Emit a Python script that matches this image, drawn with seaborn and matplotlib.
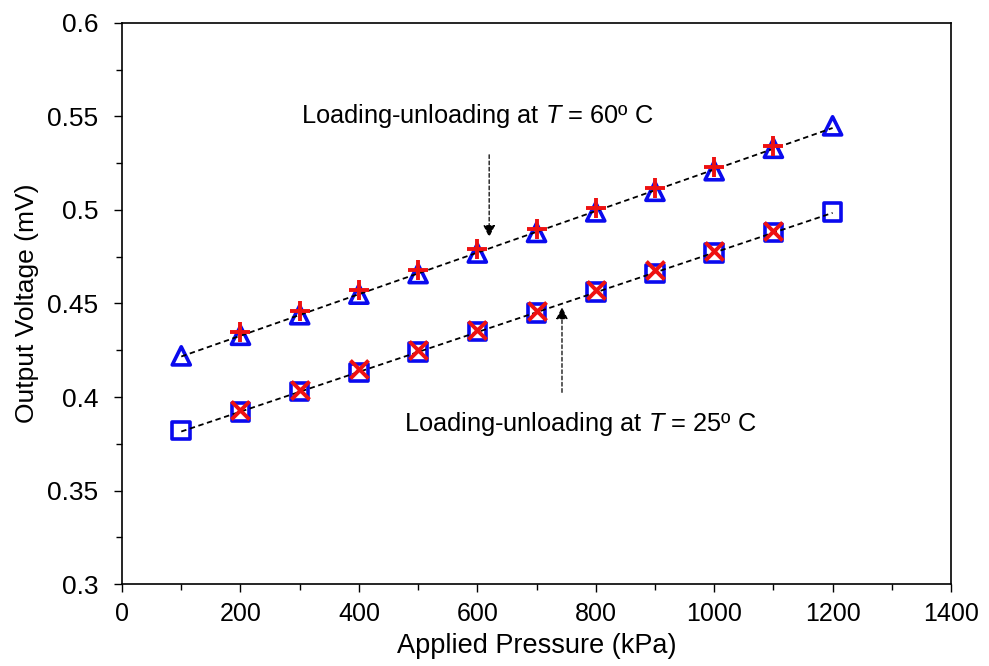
import matplotlib
matplotlib.use("Agg")
import matplotlib.pyplot as plt
from matplotlib.ticker import MultipleLocator
import seaborn as sns
import pandas as pd

# Applied pressure (kPa) and output voltage (mV)
pressure_full = [100, 200, 300, 400, 500, 600, 700, 800, 900, 1000, 1100, 1200]
pressure_inner = [200, 300, 400, 500, 600, 700, 800, 900, 1000, 1100]

v60_loading = [0.422, 0.433, 0.444, 0.455, 0.466, 0.477, 0.488, 0.499, 0.510, 0.521, 0.533, 0.545]
v60_unloading = [0.435, 0.446, 0.457, 0.468, 0.479, 0.490, 0.501, 0.512, 0.523, 0.534]
v25_loading = [0.382, 0.392, 0.403, 0.413, 0.424, 0.435, 0.445, 0.456, 0.466, 0.477, 0.488, 0.499]
v25_unloading = [0.393, 0.404, 0.415, 0.425, 0.436, 0.446, 0.457, 0.468, 0.478, 0.489]

x_ticks = [0, 200, 400, 600, 800, 1000, 1200, 1400]
y_ticks = [0.3, 0.35, 0.4, 0.45, 0.5, 0.55, 0.6]
y_tick_labels = ["0.3", "0.35", "0.4", "0.45", "0.5", "0.55", "0.6"]

sns.set_style("ticks")
plt.rcParams["font.family"] = ["Liberation Sans", "DejaVu Sans"]
plt.rcParams["mathtext.fontset"] = "custom"
plt.rcParams["mathtext.rm"] = "Liberation Sans"
plt.rcParams["mathtext.it"] = "Liberation Sans:italic"
plt.rcParams["text.color"] = "black"
plt.rcParams["axes.labelcolor"] = "black"
plt.rcParams["xtick.color"] = "black"
plt.rcParams["ytick.color"] = "black"

fig = plt.figure(figsize=(9.89, 6.66), dpi=100)
ax = fig.add_axes([0.1234, 0.1231, 0.8382, 0.8424])

df60 = pd.DataFrame({"p": pressure_full, "v": v60_loading})
df25 = pd.DataFrame({"p": pressure_full, "v": v25_loading})
df60u = pd.DataFrame({"p": pressure_inner, "v": v60_unloading})
df25u = pd.DataFrame({"p": pressure_inner, "v": v25_unloading})

blue = "#0a0aee"
red = "#ee1111"

# Dashed trend lines
for d in (df60, df25):
    sns.regplot(data=d, x="p", y="v", ax=ax, scatter=False, ci=None, truncate=True,
                line_kws=dict(color="black", linestyle=(0, (3, 2)), linewidth=1.3, zorder=3))

# Loading series (hollow blue markers)
sns.scatterplot(data=df60, x="p", y="v", ax=ax, marker="^", s=170,
                facecolor="none", edgecolor=blue, linewidth=2.6, zorder=2)
sns.scatterplot(data=df25, x="p", y="v", ax=ax, marker="s", s=160,
                facecolor="none", edgecolor=blue, linewidth=2.6, zorder=2)

# Unloading series (red crosses)
sns.scatterplot(data=df60u, x="p", y="v", ax=ax, marker="+", s=190,
                color=red, linewidth=2.8, zorder=4)
sns.scatterplot(data=df25u, x="p", y="v", ax=ax, marker="x", s=170,
                color=red, linewidth=2.8, zorder=4)

# Annotations
arrow_kw = dict(arrowstyle="-|>", color="black", linestyle=(0, (3, 2)), linewidth=0.9,
                mutation_scale=18)
ax.annotate("", xy=(620, 0.484), xytext=(620, 0.531), arrowprops=arrow_kw)
ax.annotate("", xy=(743, 0.4495), xytext=(743, 0.401), arrowprops=arrow_kw)
ax.text(302, 0.5505, r"Loading-unloading at $\mathit{T}$ = 60º C", fontsize=18.3,
        ha="left", va="center", color="black")
ax.text(476, 0.3855, r"Loading-unloading at $\mathit{T}$ = 25º C", fontsize=18.3,
        ha="left", va="center", color="black")

ax.set_xlim(0, 1400)
ax.set_ylim(0.3, 0.6)
ax.set_xticks(x_ticks)
ax.set_yticks(y_ticks)
ax.set_yticklabels(y_tick_labels)
ax.xaxis.set_minor_locator(MultipleLocator(100))
ax.yaxis.set_minor_locator(MultipleLocator(0.025))
ax.tick_params(axis="both", which="major", direction="out", length=6, width=1,
               colors="black")
ax.tick_params(axis="both", which="minor", direction="out", length=4.5, width=1,
               colors="black")
ax.tick_params(axis="x", which="major", labelsize=18, pad=7)
ax.tick_params(axis="y", which="major", labelsize=19, pad=11)

for s in ax.spines.values():
    s.set_visible(True)
    s.set_color("black")
    s.set_linewidth(1.2)

ax.set_xlabel("Applied Pressure (kPa)", fontsize=19.5, labelpad=5, color="black")
ax.set_ylabel("Output Voltage (mV)", fontsize=19, labelpad=6, color="black")

fig.savefig("out.png", dpi=100, facecolor="white")
